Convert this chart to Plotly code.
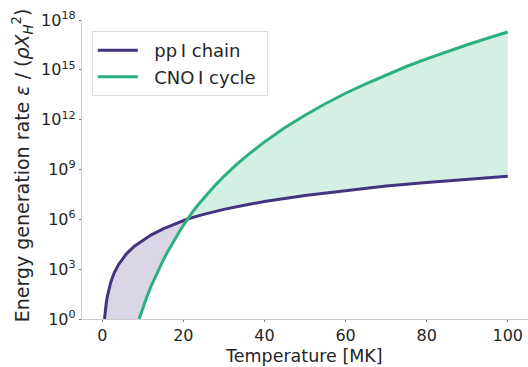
import plotly.graph_objects as go

# Temperatures (MK) and log10 of the energy generation rate eps/(rho X_H^2)
temp_pp = [0.55, 0.7, 0.85, 1.0, 1.25, 1.5, 2.0, 2.5, 3.0, 4.0, 5.0, 6.0, 8.0, 10.0,
           12.0, 15.0, 18.0, 21.0, 25.0, 30.0, 35.0, 40.0, 50.0, 60.0, 70.0, 80.0,
           90.0, 100.0]
log_pp = [0.0, 0.40, 0.72, 0.99, 1.35, 1.66, 2.13, 2.50, 2.80, 3.27, 3.64, 3.94, 4.40,
          4.75, 5.05, 5.42, 5.74, 6.02, 6.30, 6.60, 6.85, 7.07, 7.44, 7.74, 8.00, 8.22,
          8.41, 8.59]

temp_cno = [9.1, 10.0, 11.0, 12.0, 13.0, 14.0, 15.0, 16.0, 17.0, 18.0, 19.0, 20.0,
            21.0, 22.5, 24.0, 26.0, 28.0, 30.0, 33.0, 36.0, 40.0, 45.0, 50.0, 55.0,
            60.0, 65.0, 70.0, 75.0, 80.0, 85.0, 90.0, 95.0, 100.0]
log_cno = [0.0, 0.66, 1.34, 1.95, 2.51, 3.04, 3.53, 3.99, 4.43, 4.85, 5.25, 5.64,
           6.02, 6.52, 6.98, 7.56, 8.09, 8.59, 9.28, 9.90, 10.66, 11.51, 12.27, 12.96,
           13.59, 14.16, 14.70, 15.20, 15.66, 16.10, 16.51, 16.90, 17.28]

labels = ["pp\u2009I chain", "CNO\u2009I cycle"]
y_tick_powers = [0, 3, 6, 9, 12, 15, 18]
x_ticks = [0, 20, 40, 60, 80, 100]
x_title = "Temperature [MK]"
y_title = ("Energy generation rate <i>\u03b5</i> / "
           "(<i>\u03c1X</i><sub><i>H</i></sub><sup>2</sup>)")

PP_COLOR = "#45337f"
CNO_COLOR = "#2bb07f"
PP_FILL = "rgba(69,51,127,0.2)"
CNO_FILL = "rgba(43,176,127,0.2)"
TEXT = "#262626"
NBSP = "\u00a0"

eps_pp = [10 ** v for v in log_pp]
eps_cno = [10 ** v for v in log_cno]

# both curves share the crossing temperature
t_cross = 21.0
i_pp = temp_pp.index(t_cross)
i_cno = temp_cno.index(t_cross)

fig = go.Figure()

# pp-dominated region: pp curve on top, CNO curve (or the axis floor) beneath
pp_poly_x = temp_pp[: i_pp + 1] + temp_cno[: i_cno + 1][::-1] + [temp_pp[0]]
pp_poly_y = eps_pp[: i_pp + 1] + eps_cno[: i_cno + 1][::-1] + [eps_pp[0]]
fig.add_trace(go.Scatter(x=pp_poly_x, y=pp_poly_y, mode="lines", fill="toself",
                         fillcolor=PP_FILL, line=dict(width=0), hoverinfo="skip",
                         showlegend=False))

# CNO-dominated region: CNO curve on top, pp curve beneath
cno_poly_x = temp_cno[i_cno:] + temp_pp[i_pp:][::-1]
cno_poly_y = eps_cno[i_cno:] + eps_pp[i_pp:][::-1]
fig.add_trace(go.Scatter(x=cno_poly_x, y=cno_poly_y, mode="lines", fill="toself",
                         fillcolor=CNO_FILL, line=dict(width=0), hoverinfo="skip",
                         showlegend=False))

fig.add_trace(go.Scatter(x=temp_pp, y=eps_pp, mode="lines",
                         name=NBSP * 2 + labels[0] + NBSP,
                         line=dict(color=PP_COLOR, width=3)))
fig.add_trace(go.Scatter(x=temp_cno, y=eps_cno, mode="lines",
                         name=NBSP * 2 + labels[1] + NBSP,
                         line=dict(color=CNO_COLOR, width=3)))

axis_common = dict(showgrid=False, zeroline=False, showline=True, linecolor="#cccccc",
                   linewidth=1.3, ticks="outside", ticklen=2, tickwidth=1,
                   tickcolor="#777777", tickfont=dict(size=16, color=TEXT))

fig.update_xaxes(range=[-5, 105], tickvals=x_ticks, **axis_common)
fig.update_yaxes(type="log", range=[0, 18], tickvals=[10 ** p for p in y_tick_powers],
                 ticktext=[f"10<sup>{p}</sup>" for p in y_tick_powers],
                 **axis_common)

# axis titles placed as paper-anchored annotations
fig.add_annotation(text=x_title, xref="paper", yref="paper", x=0.498, y=-0.1605,
                   xanchor="center", yanchor="bottom", showarrow=False, borderpad=0,
                   font=dict(size=17.5, color=TEXT))
fig.add_annotation(text=y_title, xref="paper", yref="paper", x=-0.134, y=0.515,
                   xanchor="center", yanchor="middle", textangle=-90, showarrow=False,
                   font=dict(size=19, color=TEXT))

fig.update_layout(
    width=528, height=367,
    margin=dict(l=82, r=0, t=20, b=48),
    paper_bgcolor="white", plot_bgcolor="white",
    font=dict(family="DejaVu Sans", size=18, color=TEXT),
    legend=dict(x=0.022, y=0.963, xanchor="left", yanchor="top",
                bgcolor="rgba(255,255,255,0.8)", bordercolor="#dddddd", borderwidth=1,
                font=dict(size=18, color=TEXT), itemwidth=40, tracegroupgap=0),
)

fig.write_html("out.html")
